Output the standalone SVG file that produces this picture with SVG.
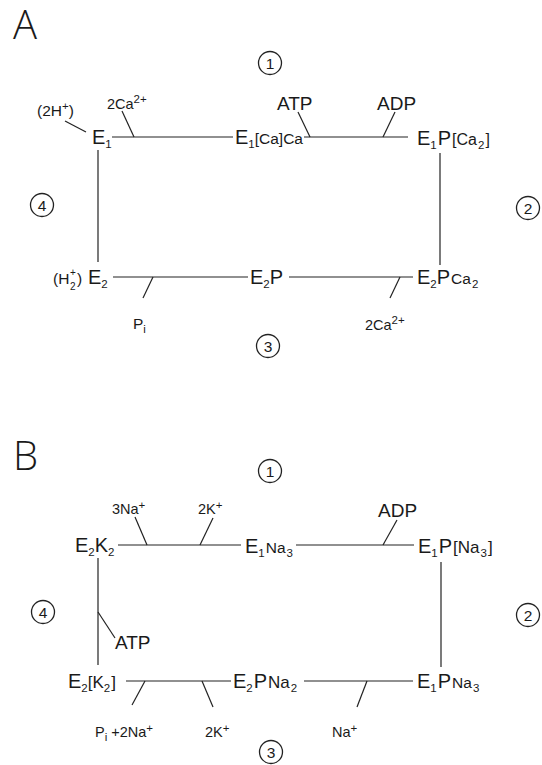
<svg xmlns="http://www.w3.org/2000/svg" width="542" height="765" viewBox="0 0 542 765">
<style>
text{font-family:"Liberation Sans",Arial,sans-serif;fill:#1a1a1a}
.m{font-size:20px}
.in{font-size:15.5px}
.s{font-size:11.5px}
.lab{font-size:14.5px}
.big{font-size:19px}
.pan{font-size:40px;font-family:"Open Sans","Liberation Sans",sans-serif;font-weight:300}
.num{font-size:15.5px;text-anchor:middle}
.ln{stroke:#222;stroke-width:1.2;fill:none}
.cir{stroke:#222;stroke-width:1.3;fill:none}
</style>
<rect width="542" height="765" fill="#fff"/>

<!-- Panel A -->
<text class="pan" x="13" y="39">A</text>
<g id="A_steps">
<g id="A_c1"><circle class="cir" cx="270" cy="63" r="11.5"/><text class="num" x="270" y="68.5">1</text></g>
<g id="A_c2"><circle class="cir" cx="528" cy="208" r="11.5"/><text class="num" x="528" y="213.5">2</text></g>
<g id="A_c3"><circle class="cir" cx="268" cy="346" r="11.5"/><text class="num" x="268" y="351.5">3</text></g>
<g id="A_c4"><circle class="cir" cx="42" cy="205" r="11.5"/><text class="num" x="42" y="210.5">4</text></g>
</g>
<g id="A_E1"><text class="m" x="92" y="144">E<tspan class="s" dy="4">1</tspan></text></g>
<g id="A_E1CaCa"><text class="m" x="235" y="144">E<tspan class="s" dy="4">1</tspan><tspan class="in" dy="-4">[Ca]Ca</tspan></text></g>
<g id="A_E1PCa2"><text class="m" x="417" y="145">E<tspan class="s" dy="4">1</tspan><tspan dy="-4" dx="1">P</tspan><tspan class="in" style="font-size:16px" dx="1">[Ca</tspan><tspan class="s" dy="4" dx="1">2</tspan><tspan class="in" style="font-size:16px" dy="-4" dx="1">]</tspan></text></g>
<g id="A_E2PCa2"><text class="m" x="417" y="284">E<tspan class="s" dy="4">2</tspan><tspan dy="-4">P</tspan><tspan class="in" dx="1">Ca</tspan><tspan class="s" dy="4" dx="1">2</tspan></text></g>
<g id="A_E2P"><text class="m" x="250" y="284">E<tspan class="s" dy="4">2</tspan><tspan dy="-4">P</tspan></text></g>
<g id="A_H2E2">
<text class="in" x="53" y="284">(H</text>
<text x="70" y="276" style="font-size:10px">+</text>
<text x="70" y="290" style="font-size:10px">2</text>
<text class="in" x="77" y="284">)</text>
<text class="m" x="88" y="284">E<tspan class="s" dy="4">2</tspan></text>
</g>
<g id="A_labels">
<text class="in" x="37" y="116">(2H<tspan class="s" dy="-6">+</tspan><tspan dy="6">)</tspan></text>
<text class="lab" x="107" y="109">2Ca<tspan class="s" dy="-6">2+</tspan></text>
<text class="big" x="277" y="110">ATP</text>
<text class="big" x="377" y="110">ADP</text>
<text class="lab" x="365" y="330">2Ca<tspan class="s" dy="-6">2+</tspan></text>
<text class="in" x="133" y="329">P<tspan class="s" dy="4">i</tspan></text>
</g>
<g id="A_connectors">
<line class="ln" x1="112" y1="137" x2="233" y2="137"/>
<line class="ln" x1="304" y1="137" x2="408" y2="137"/>
<line class="ln" x1="98" y1="150" x2="98" y2="262"/>
<line class="ln" x1="440" y1="153" x2="440" y2="265"/>
<line class="ln" x1="113" y1="277" x2="248" y2="277"/>
<line class="ln" x1="289" y1="277" x2="413" y2="277"/>
<line class="ln" x1="65" y1="121" x2="86" y2="132"/>
<line class="ln" x1="122" y1="111" x2="134" y2="137"/>
<line class="ln" x1="298" y1="112" x2="310" y2="137"/>
<line class="ln" x1="395" y1="112" x2="383" y2="137"/>
<line class="ln" x1="400" y1="277" x2="390" y2="298"/>
<line class="ln" x1="153" y1="277" x2="143" y2="298"/>
</g>

<!-- Panel B -->
<text class="pan" x="13" y="470">B</text>
<g id="B_steps">
<g id="B_c1"><circle class="cir" cx="270" cy="471" r="11.5"/><text class="num" x="270" y="476.5">1</text></g>
<g id="B_c2"><circle class="cir" cx="528" cy="615" r="11.5"/><text class="num" x="528" y="620.5">2</text></g>
<g id="B_c3"><circle class="cir" cx="271" cy="752" r="11.5"/><text class="num" x="271" y="757.5">3</text></g>
<g id="B_c4"><circle class="cir" cx="43" cy="612" r="11.5"/><text class="num" x="43" y="617.5">4</text></g>
</g>
<g id="B_E2K2"><text class="m" x="75" y="552">E<tspan class="s" dy="4">2</tspan><tspan dy="-4">K</tspan><tspan class="s" dy="4">2</tspan></text></g>
<g id="B_E1Na3"><text class="m" x="245" y="553">E<tspan class="s" dy="4">1</tspan><tspan class="in" dy="-4" dx="1">Na</tspan><tspan class="s" dy="4" dx="1">3</tspan></text></g>
<g id="B_E1PNa3"><text class="m" x="418" y="553">E<tspan class="s" dy="4">1</tspan><tspan dy="-4" dx="1">P</tspan><tspan class="in" style="font-size:17px" dx="1">[Na</tspan><tspan class="s" dy="4" dx="1">3</tspan><tspan class="in" style="font-size:17px" dy="-4" dx="1">]</tspan></text></g>
<g id="B_E1PNa3b"><text class="m" x="417" y="688">E<tspan class="s" dy="4">1</tspan><tspan dy="-4" dx="1">P</tspan><tspan class="in" dx="1">Na</tspan><tspan class="s" dy="4" dx="1">3</tspan></text></g>
<g id="B_E2PNa2"><text class="m" x="233" y="688">E<tspan class="s" dy="4">2</tspan><tspan dy="-4" dx="1">P</tspan><tspan class="in" style="font-size:17px" dx="1">Na</tspan><tspan class="s" dy="4" dx="1">2</tspan></text></g>
<g id="B_E2K2b"><text class="m" x="68" y="688">E<tspan class="s" dy="4">2</tspan><tspan class="in" dy="-4" style="font-size:17px">[K</tspan><tspan class="s" dy="4">2</tspan><tspan class="in" dy="-4" style="font-size:17px" dx="1">]</tspan></text></g>
<g id="B_labels">
<text class="lab" x="112" y="514">3Na<tspan class="s" dy="-5">+</tspan></text>
<text class="lab" x="198" y="514">2K<tspan class="s" dy="-5">+</tspan></text>
<text class="big" x="378" y="517">ADP</text>
<text class="big" x="115" y="649">ATP</text>
<text class="lab" x="95" y="737">P<tspan class="s" dy="4">i</tspan><tspan dy="-4"> +2Na</tspan><tspan class="s" dy="-5">+</tspan></text>
<text class="lab" x="205" y="737">2K<tspan class="s" dy="-5">+</tspan></text>
<text class="lab" x="332" y="737">Na<tspan class="s" dy="-5">+</tspan></text>
</g>
<g id="B_connectors">
<line class="ln" x1="118" y1="545" x2="241" y2="545"/>
<line class="ln" x1="296" y1="545" x2="414" y2="545"/>
<line class="ln" x1="98" y1="558" x2="98" y2="665"/>
<line class="ln" x1="441" y1="562" x2="441" y2="667"/>
<line class="ln" x1="126" y1="681" x2="231" y2="681"/>
<line class="ln" x1="304" y1="681" x2="413" y2="681"/>
<line class="ln" x1="135" y1="517" x2="147" y2="545"/>
<line class="ln" x1="213" y1="518" x2="200" y2="545"/>
<line class="ln" x1="397" y1="520" x2="383" y2="545"/>
<line class="ln" x1="98" y1="612" x2="115" y2="638"/>
<line class="ln" x1="145" y1="681" x2="132" y2="705"/>
<line class="ln" x1="202" y1="681" x2="213" y2="707"/>
<line class="ln" x1="367" y1="681" x2="357" y2="707"/>
</g>
</svg>
